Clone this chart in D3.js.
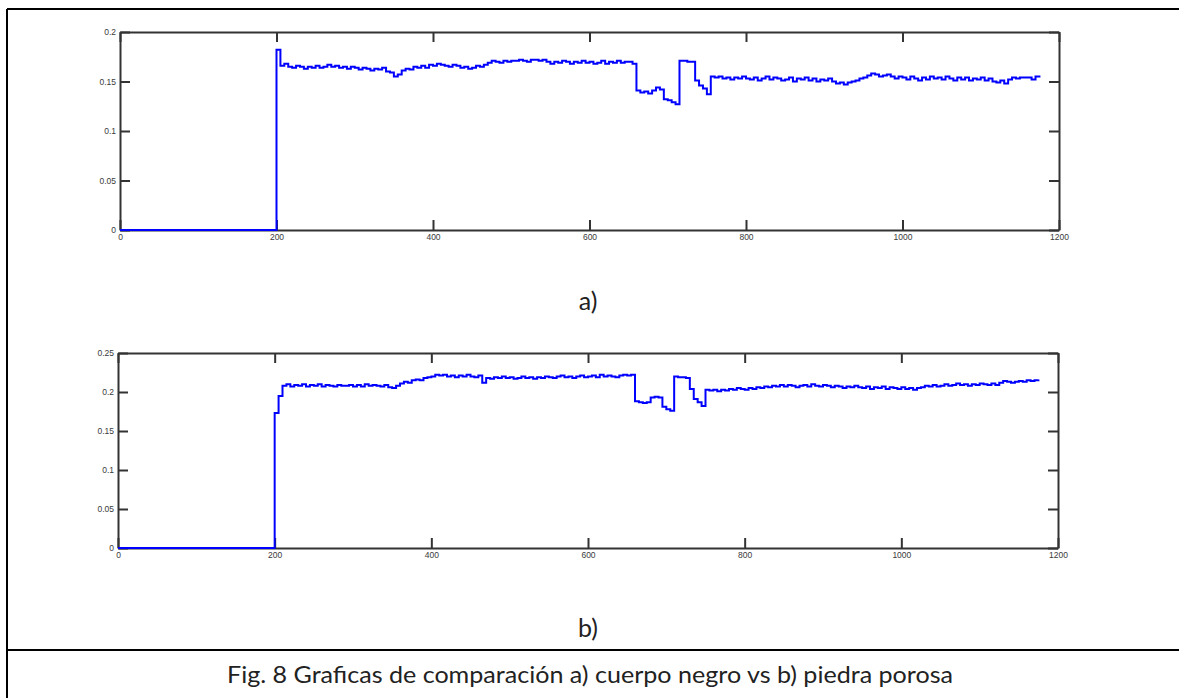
<!DOCTYPE html>
<meta charset="utf-8">
<script src="https://d3js.org/d3.v7.min.js"></script>
<style>
body { margin: 0; background: #fff; }
.tick-label { font-family: "Liberation Sans", Arial, sans-serif; font-size: 8.5px; fill: #3a3a3a; }
.panel-label { font-family: Lato, "Open Sans", sans-serif; font-size: 25px; fill: #222; }
.caption { font-family: Lato, "Open Sans", sans-serif; font-size: 23px; fill: #222; }
</style>
<div id="chart"></div>
<script>

// sample grid of the recording (one value each 5 units, starting at 200)
const sampleStart = 200,
      sampleStep = 5;

// a) cuerpo negro
const seriesA = [
	0.182, 0.166, 0.168, 0.165, 0.164, 0.166, 0.165, 0.163, 0.165, 0.164,
	0.166, 0.164, 0.165, 0.167, 0.165, 0.166, 0.164, 0.165, 0.163, 0.165,
	0.164, 0.162, 0.164, 0.163, 0.161, 0.163, 0.162, 0.164, 0.160, 0.159,
	0.155, 0.157, 0.161, 0.163, 0.162, 0.165, 0.164, 0.166, 0.164, 0.167,
	0.166, 0.168, 0.167, 0.166, 0.165, 0.167, 0.166, 0.164, 0.165, 0.163,
	0.164, 0.166, 0.165, 0.167, 0.169, 0.171, 0.170, 0.169, 0.171, 0.170,
	0.171, 0.171, 0.172, 0.171, 0.170, 0.172, 0.172, 0.171, 0.172, 0.170,
	0.168, 0.170, 0.169, 0.171, 0.170, 0.168, 0.170, 0.169, 0.171, 0.169,
	0.170, 0.168, 0.169, 0.171, 0.168, 0.170, 0.169, 0.171, 0.169, 0.170,
	0.170, 0.168, 0.141, 0.139, 0.140, 0.138, 0.141, 0.144, 0.142, 0.132,
	0.131, 0.129, 0.127, 0.171, 0.171, 0.170, 0.170, 0.151, 0.146, 0.143,
	0.137, 0.155, 0.154, 0.155, 0.153, 0.154, 0.152, 0.154, 0.153, 0.155,
	0.153, 0.152, 0.154, 0.151, 0.153, 0.155, 0.152, 0.154, 0.153, 0.151,
	0.152, 0.154, 0.150, 0.153, 0.152, 0.154, 0.151, 0.153, 0.150, 0.152,
	0.151, 0.153, 0.150, 0.148, 0.149, 0.147, 0.149, 0.150, 0.151, 0.153,
	0.154, 0.156, 0.158, 0.157, 0.155, 0.156, 0.157, 0.155, 0.153, 0.155,
	0.154, 0.152, 0.155, 0.153, 0.151, 0.154, 0.152, 0.155, 0.153, 0.154,
	0.152, 0.155, 0.153, 0.151, 0.154, 0.152, 0.154, 0.151, 0.153, 0.152,
	0.154, 0.151, 0.153, 0.150, 0.149, 0.151, 0.148, 0.152, 0.154, 0.153,
	0.154, 0.154, 0.154, 0.152, 0.155, 0.154
];

// b) piedra porosa
const seriesB = [
	0.173, 0.195, 0.208, 0.210, 0.207, 0.209, 0.208, 0.210, 0.207, 0.209,
	0.208, 0.210, 0.207, 0.209, 0.208, 0.207, 0.209, 0.208, 0.208, 0.209,
	0.207, 0.209, 0.207, 0.210, 0.208, 0.209, 0.208, 0.207, 0.209, 0.206,
	0.205, 0.208, 0.211, 0.213, 0.212, 0.215, 0.216, 0.215, 0.218, 0.219,
	0.220, 0.222, 0.221, 0.222, 0.220, 0.221, 0.219, 0.221, 0.220, 0.222,
	0.220, 0.219, 0.221, 0.212, 0.218, 0.217, 0.219, 0.218, 0.220, 0.218,
	0.219, 0.217, 0.218, 0.220, 0.218, 0.219, 0.217, 0.219, 0.218, 0.220,
	0.219, 0.218, 0.220, 0.221, 0.219, 0.220, 0.218, 0.220, 0.221, 0.219,
	0.220, 0.221, 0.219, 0.222, 0.220, 0.221, 0.220, 0.219, 0.221, 0.222,
	0.221, 0.222, 0.188, 0.187, 0.186, 0.187, 0.193, 0.194, 0.193, 0.181,
	0.178, 0.176, 0.220, 0.219, 0.219, 0.218, 0.204, 0.191, 0.187, 0.182,
	0.203, 0.202, 0.203, 0.201, 0.203, 0.202, 0.204, 0.203, 0.205, 0.204,
	0.203, 0.205, 0.204, 0.206, 0.205, 0.207, 0.206, 0.208, 0.207, 0.209,
	0.207, 0.209, 0.208, 0.206, 0.208, 0.209, 0.207, 0.210, 0.208, 0.207,
	0.209, 0.208, 0.206, 0.208, 0.207, 0.205, 0.207, 0.206, 0.208, 0.206,
	0.205, 0.207, 0.204, 0.206, 0.205, 0.207, 0.204, 0.206, 0.205, 0.204,
	0.206, 0.204, 0.205, 0.203, 0.205, 0.206, 0.208, 0.207, 0.209, 0.207,
	0.208, 0.210, 0.208, 0.209, 0.211, 0.209, 0.210, 0.208, 0.210, 0.209,
	0.211, 0.210, 0.209, 0.211, 0.209, 0.212, 0.214, 0.213, 0.212, 0.213,
	0.214, 0.213, 0.215, 0.214, 0.215, 0.216
];

const xTicks = [0, 200, 400, 600, 800, 1000, 1200];
const xTickLabels = ['0', '200', '400', '600', '800', '1000', '1200'];
const yTicksA = [0, 0.05, 0.1, 0.15, 0.2];
const yTickLabelsA = ['0', '0.05', '0.1', '0.15', '0.2'];
const yTicksB = [0, 0.05, 0.1, 0.15, 0.2, 0.25];
const yTickLabelsB = ['0', '0.05', '0.1', '0.15', '0.2', '0.25'];

const width = 1179,
      height = 698;

const svg = d3.select('#chart')
	.append('svg')
	.attr('width', width)
	.attr('height', height);

// page frame (figure table cell + caption row)
svg.append('path')
	.attr('d', 'M7,9 H1179 M7,9 V698 M7,650 H1179')
	.attr('stroke', '#000')
	.attr('stroke-width', 2)
	.attr('fill', 'none');

function toPoints(values) {
	// flat zero before the signal starts
	const pts = [[0, 0], [sampleStart, 0]];
	values.forEach((v, i) => pts.push([sampleStart + i * sampleStep, v]));
	return pts;
}

function drawPanel(box, values, yMax, yTicks, yLabels) {
	const x = d3.scaleLinear().domain([0, 1200]).range([box.left, box.right]);
	const y = d3.scaleLinear().domain([0, yMax]).range([box.bottom, box.top]);
	const g = svg.append('g');
	const tickLen = 10;

	// axes on all four sides, ticks pointing inwards
	const fmtX = d => xTickLabels[xTicks.indexOf(d)];
	const fmtY = d => yLabels[yTicks.indexOf(d)];

	g.append('g')
		.attr('transform', `translate(0,${box.bottom})`)
		.call(d3.axisBottom(x).tickValues(xTicks).tickFormat(fmtX).tickSizeInner(-tickLen).tickSizeOuter(0).tickPadding(4));
	g.append('g')
		.attr('transform', `translate(0,${box.top})`)
		.call(d3.axisTop(x).tickValues(xTicks).tickFormat('').tickSizeInner(-tickLen).tickSizeOuter(0));
	g.append('g')
		.attr('transform', `translate(${box.left},0)`)
		.call(d3.axisLeft(y).tickValues(yTicks).tickFormat(fmtY).tickSizeInner(-tickLen).tickSizeOuter(0).tickPadding(4));
	g.append('g')
		.attr('transform', `translate(${box.right},0)`)
		.call(d3.axisRight(y).tickValues(yTicks).tickFormat('').tickSizeInner(-tickLen).tickSizeOuter(0));

	g.selectAll('.domain').attr('stroke', '#333').attr('stroke-width', 2);
	g.selectAll('.tick line').attr('stroke', '#333').attr('stroke-width', 2);
	g.selectAll('.tick text')
		.attr('class', 'tick-label')
		.attr('font-size', null)
		.attr('font-family', null)
		.attr('fill', null);
	g.selectAll('g').attr('font-size', null).attr('font-family', null);

	const line = d3.line()
		.x(d => x(d[0]))
		.y(d => y(d[1]))
		.curve(d3.curveStepAfter);

	g.append('path')
		.datum(toPoints(values))
		.attr('d', line)
		.attr('fill', 'none')
		.attr('stroke', '#0000ff')
		.attr('stroke-width', 2)
		.attr('stroke-linejoin', 'miter');
}

drawPanel({left: 120, right: 1059, top: 32, bottom: 230}, seriesA, 0.2, yTicksA, yTickLabelsA);
drawPanel({left: 118, right: 1058, top: 353, bottom: 548}, seriesB, 0.25, yTicksB, yTickLabelsB);

svg.append('text').attr('class', 'panel-label')
	.attr('x', 588).attr('y', 310).attr('text-anchor', 'middle').text('a)');
svg.append('text').attr('class', 'panel-label')
	.attr('x', 588).attr('y', 637).attr('text-anchor', 'middle').text('b)');

svg.append('text').attr('class', 'caption')
	.attr('x', 590).attr('y', 683).attr('text-anchor', 'middle')
	.attr('textLength', 726).attr('lengthAdjust', 'spacingAndGlyphs')
	.text('Fig. 8 Graficas de comparación a) cuerpo negro vs b) piedra porosa');

</script>
